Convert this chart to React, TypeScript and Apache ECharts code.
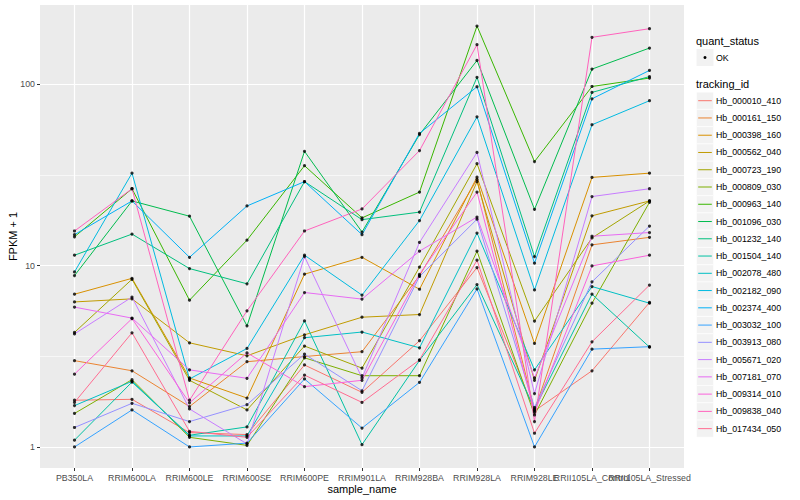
import React, { useEffect, useRef } from "react";
import * as echarts from "echarts";

const categories = [
  "PB350LA",
  "RRIM600LA",
  "RRIM600LE",
  "RRIM600SE",
  "RRIM600PE",
  "RRIM901LA",
  "RRIM928BA",
  "RRIM928LA",
  "RRIM928LE",
  "RRII105LA_Control",
  "RRII105LA_Stressed",
];

const trackingIds = [
  "Hb_000010_410",
  "Hb_000161_150",
  "Hb_000398_160",
  "Hb_000562_040",
  "Hb_000723_190",
  "Hb_000809_030",
  "Hb_000963_140",
  "Hb_001096_030",
  "Hb_001232_140",
  "Hb_001504_140",
  "Hb_002078_480",
  "Hb_002182_090",
  "Hb_002374_400",
  "Hb_003032_100",
  "Hb_003913_080",
  "Hb_005671_020",
  "Hb_007181_070",
  "Hb_009314_010",
  "Hb_009838_040",
  "Hb_017434_050",
];

const colors = [
  "#F8766D", "#EA8331", "#D89000", "#C09B00", "#A3A500",
  "#7CAE00", "#39B600", "#00BB4E", "#00BF7D", "#00C1A3",
  "#00BFC4", "#00BAE0", "#00B0F6", "#35A2FF", "#9590FF",
  "#C77CFF", "#E76BF3", "#FA62DB", "#FF62BC", "#FF6C91",
];

// FPKM + 1 values per tracking id, in category order
const hb000010_410 = [1.81, 1.83, 1.2, 1.17, 2.83, 2.0, 3.85, 9.75, 1.58, 2.63, 6.26];
const hb000161_150 = [2.99, 2.63, 1.67, 2.95, 3.15, 3.35, 8.8, 29.8, 1.6, 13.0, 14.3];
const hb000398_160 = [6.95, 8.5, 2.4, 1.86, 8.96, 11.1, 7.4, 30.7, 3.72, 30.6, 32.3];
const hb000562_040 = [6.3, 6.55, 3.75, 3.18, 4.15, 5.19, 5.37, 29, 2.33, 18.8, 22.7];
const hb000723_190 = [4.28, 8.4, 2.33, 1.6, 3.6, 2.72, 9.8, 36.4, 4.94, 14.2, 22.7];
const hb000809_030 = [1.53, 2.35, 1.13, 1.02, 3.1, 2.47, 2.47, 12, 1.5, 6.2, 22.3];
const hb000963_140 = [14.4, 26.5, 6.44, 13.8, 35.5, 18.3, 25.4, 209, 37.4, 97, 108];
const hb001096_030 = [8.8, 22.7, 18.7, 4.65, 42.6, 15.3, 52.7, 135, 20.4, 121, 158];
const hb001232_140 = [11.4, 14.9, 9.62, 7.93, 29, 17.9, 19.7, 109, 11.2, 90, 110];
const hb001504_140 = [1.09, 2.28, 1.16, 1.29, 4.95, 1.03, 3.0, 7.85, 1.62, 6.95, 3.55];
const hb002078_480 = [1.69, 2.3, 1.15, 1.15, 4.0, 4.3, 3.52, 15.1, 2.66, 7.66, 6.2];
const hb002182_090 = [9.22, 32.3, 2.37, 3.49, 11.4, 6.87, 17.7, 66, 7.34, 59.7, 81];
const hb002374_400 = [14.8, 22.7, 11.1, 21.3, 29, 14.8, 53.5, 96.7, 10.3, 83, 119];
const hb003032_100 = [1.0, 1.6, 1.0, 1.05, 2.37, 1.27, 2.27, 7.43, 1.0, 3.46, 3.57];
const hb003913_080 = [1.28, 1.74, 1.38, 1.71, 3.25, 2.04, 8.7, 18, 1.65, 8.13, 16.5];
const hb005671_020 = [4.2, 6.7, 1.62, 1.04, 11.2, 2.4, 13.4, 42, 1.97, 24, 26.5];
const hb007181_070 = [5.9, 5.13, 2.66, 2.39, 7.1, 6.53, 12, 18.5, 2.4, 14.5, 15.2];
const hb009314_010 = [2.52, 5.1, 1.75, 3.3, 2.15, 2.33, 8.95, 25.4, 1.55, 9.95, 11.4];
const hb009838_040 = [15.5, 26.5, 1.81, 5.63, 15.5, 20.5, 43, 165, 1.38, 181, 202];
const hb017434_050 = [1.76, 4.26, 1.22, 1.13, 2.49, 1.76, 3.02, 10.7, 1.19, 3.8, 7.8];

const seriesValues = [
  hb000010_410, hb000161_150, hb000398_160, hb000562_040, hb000723_190,
  hb000809_030, hb000963_140, hb001096_030, hb001232_140, hb001504_140,
  hb002078_480, hb002182_090, hb002374_400, hb003032_100, hb003913_080,
  hb005671_020, hb007181_070, hb009314_010, hb009838_040, hb017434_050,
];

const yTickLabels = [1, 10, 100];
const yMinorBreaks = [Math.sqrt(10), Math.sqrt(1000)];

const FONT = '"Liberation Sans", Arial, Helvetica, sans-serif';

export default function App() {
  const ref = useRef<HTMLDivElement>(null);

  useEffect(() => {
    if (!ref.current) return;
    const chart = echarts.init(ref.current, undefined, { renderer: "svg" });

    const lineSeries = seriesValues.map((vals, k) => ({
      type: "line",
      name: trackingIds[k],
      data: vals.map((v, i) => [i, Math.log10(v)]),
      xAxisIndex: 0,
      yAxisIndex: 0,
      showSymbol: false,
      symbol: "none",
      lineStyle: { color: colors[k], width: 1 },
      itemStyle: { color: colors[k] },
      silent: true,
      z: 2,
    }));

    const points: number[][] = [];
    seriesValues.forEach((vals) =>
      vals.forEach((v, i) => points.push([i, Math.log10(v)]))
    );

    const legendTop = 100.7;
    const legendStep = 17.26;
    const graphics: any[] = [
      {
        type: "text",
        x: 696,
        y: 40.7,
        style: { text: "quant_status", fontSize: 11, fontFamily: FONT, fill: "#000", verticalAlign: "middle" },
      },
      {
        type: "rect",
        shape: { x: 696.5, y: 49, width: 17, height: 17 },
        style: { fill: "#F2F2F2" },
      },
      {
        type: "circle",
        shape: { cx: 705, cy: 57.5, r: 1.5 },
        style: { fill: "#000" },
      },
      {
        type: "text",
        x: 716,
        y: 57.5,
        style: { text: "OK", fontSize: 8.8, fontFamily: FONT, fill: "#000", verticalAlign: "middle" },
      },
      {
        type: "text",
        x: 696,
        y: 84.3,
        style: { text: "tracking_id", fontSize: 11, fontFamily: FONT, fill: "#000", verticalAlign: "middle" },
      },
    ];
    trackingIds.forEach((id, k) => {
      const cy = legendTop + k * legendStep;
      graphics.push({
        type: "rect",
        shape: { x: 696.5, y: cy - 8.5, width: 17, height: 17 },
        style: { fill: "#F2F2F2", stroke: "#FFFFFF", lineWidth: 0.5 },
      });
      graphics.push({
        type: "line",
        shape: { x1: 698.2, y1: cy, x2: 711.8, y2: cy },
        style: { stroke: colors[k], lineWidth: 1 },
      });
      graphics.push({
        type: "text",
        x: 716,
        y: cy,
        style: { text: id, fontSize: 8.8, fontFamily: FONT, fill: "#000", verticalAlign: "middle" },
      });
    });

    const yMin = -0.116;
    const yMax = 2.436;
    // labels split over three axes so that ECharts does not hide the overlapping ones
    const labelGroups = [
      [0, 1, 2, 3, 4, 5, 6, 7],
      [8, 10],
      [9],
    ];
    const labelStyle = {
      formatter: (v: number) => categories[Math.round(v)] ?? "",
      color: "#4D4D4D",
      fontSize: 8.8,
      margin: 5,
      fontFamily: FONT,
      hideOverlap: false,
      showMinLabel: true,
      showMaxLabel: true,
    };

    const xAxes: any[] = labelGroups.map((group, g) => ({
      type: "value",
      min: -0.6,
      max: 10.6,
      position: "bottom",
      offset: 0,
      axisLine: { show: false, onZero: false },
      axisTick:
        g === 0
          ? {
              show: true,
              length: 3,
              lineStyle: { color: "#333333", width: 1 },
              customValues: categories.map((_, i) => i),
            }
          : { show: false, customValues: group },
      axisLabel: { ...labelStyle, customValues: group },
      splitLine:
        g === 0
          ? { show: true, lineStyle: { color: "#FFFFFF", width: 1.2 } }
          : { show: false },
    }));
    Object.assign(xAxes[0], {
      name: "sample_name",
      nameLocation: "middle",
      nameGap: 15,
      nameMoveOverlap: false,
      nameTextStyle: { color: "#000", fontSize: 11, fontFamily: FONT },
    });

    chart.setOption({
      animation: false,
      backgroundColor: "#FFFFFF",
      textStyle: { fontFamily: FONT },
      grid: {
        left: 40,
        right: 116,
        top: 5,
        bottom: 32,
        show: true,
        backgroundColor: "#EBEBEB",
        borderWidth: 0,
        containLabel: false,
        outerBoundsMode: "none",
      },
      xAxis: xAxes,
      yAxis: [
        {
          type: "value",
          min: yMin,
          max: yMax,
          name: "FPKM + 1",
          nameLocation: "middle",
          nameGap: 22,
          nameMoveOverlap: false,
          nameTextStyle: { color: "#000", fontSize: 11, fontFamily: FONT },
          axisLine: { show: false, onZero: false },
          axisTick: {
            show: true,
            length: 3,
            lineStyle: { color: "#333333", width: 1 },
            customValues: yTickLabels.map((v) => Math.log10(v)),
          },
          axisLabel: {
            customValues: yTickLabels.map((v) => Math.log10(v)),
            formatter: (v: number) => String(Math.round(Math.pow(10, v))),
            color: "#4D4D4D",
            fontSize: 8.8,
            margin: 5,
            fontFamily: FONT,
            showMinLabel: true,
            showMaxLabel: true,
          },
          splitLine: { show: true, lineStyle: { color: "#FFFFFF", width: 1.2 } },
        },
        {
          type: "value",
          min: yMin,
          max: yMax,
          position: "left",
          axisLine: { show: false, onZero: false },
          axisTick: { show: false, customValues: yMinorBreaks.map((v) => Math.log10(v)) },
          axisLabel: { show: false, customValues: yMinorBreaks.map((v) => Math.log10(v)) },
          splitLine: { show: true, lineStyle: { color: "#FFFFFF", width: 0.6 } },
        },
      ],
      series: [
        ...lineSeries,
        {
          type: "scatter",
          name: "OK",
          data: points,
          xAxisIndex: 0,
          yAxisIndex: 0,
          symbol: "circle",
          symbolSize: 3.2,
          itemStyle: { color: "#000000" },
          silent: true,
          z: 3,
        },
      ],
      graphic: graphics,
    });

    return () => chart.dispose();
  }, []);

  return (
    <div
      ref={ref}
      style={{ position: "absolute", left: 0, top: 0, width: 800, height: 500 }}
    />
  );
}
